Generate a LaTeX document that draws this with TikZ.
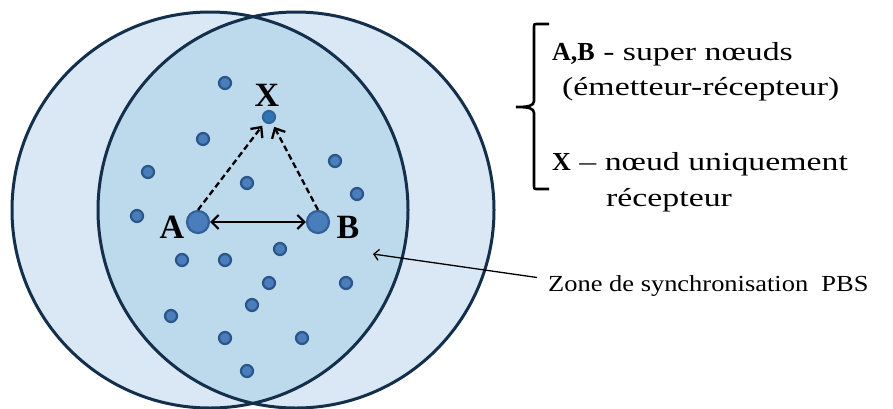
\documentclass[tikz,border=0pt]{standalone}
\usepackage{fontspec}
\setmainfont{Liberation Serif}
\newfontfamily\legendfont[FakeStretch=1.3]{Liberation Serif}
\newfontfamily\legendbold{Liberation Serif}
\newfontfamily\zonefont[FakeStretch=1.15]{Liberation Serif}
\newcommand{\keyname}[1]{{\legendbold\bfseries #1}}
\usetikzlibrary{arrows.meta}
\definecolor{rim}{HTML}{132F4C}
\definecolor{pale}{HTML}{DAE8F5}
\definecolor{lens}{HTML}{BDD9EC}
\definecolor{dotfill}{HTML}{4A7DBB}
\definecolor{dotrim}{HTML}{2B5689}
\definecolor{xfill}{HTML}{2E75B6}
\tikzset{>={Straight Barb[length=7pt,width=14pt]},zone/.style={line width=3pt,draw=rim},dot/.style={circle,fill=dotfill,draw=dotrim,line width=2.2pt,inner sep=0pt,minimum size=12pt},supernode/.style={dot,minimum size=22pt,draw=dotrim!70!dotfill},tag/.style={font=\bfseries\fontsize{34}{34}\selectfont},legend/.style={font=\legendfont\fontsize{26}{36}\selectfont,anchor=base west,inner sep=0pt},zonetext/.style={legend,font=\zonefont\fontsize{23}{23}\selectfont},link/.style={<->,line width=2.2pt},listen/.style={-{Straight Barb[length=8pt,width=15pt]},line width=2.3pt,dash pattern=on 6pt off 3.5pt,shorten >=4pt},pointer/.style={->,line width=1.3pt,>={Straight Barb[length=5pt,width=11pt]}}}

\begin{document}
\begin{tikzpicture}[x=1pt,y=-1pt]
\useasboundingbox (0,0) rectangle (893,408);
% the two ranges and their common zone
\fill[pale] (210,210) circle (198pt) (296,210) circle (198pt);
\begin{scope}
\clip (210,210) circle (198pt);
\fill[lens] (296,210) circle (198pt);
\end{scope}
\draw[zone] (210,210) circle (198pt) (296,210) circle (198pt);
% ordinary nodes
\foreach \x/\y [count=\i] in {225/83,203/139,148/172,247/183,335/161,357/194,137/216,182/260,225/260,280/249,269/283,346/283,252/305,171/316,225/338,302/338,247/371}
  \node[dot] (n\i) at (\x,\y) {};
\node[supernode] (A) at (198,222) {};
\node[supernode] (B) at (318,222) {};
\node[dot,fill=xfill,draw=dotrim!70!dotfill] (X) at (269,117) {};
\node[tag] (labA) at (172,227) {A};
\node[tag] (labB) at (348,227) {B};
\node[tag] (labX) at (267,95) {X};
\draw[link] (A) -- (B);
\draw[listen] (A.north) -- (X);
\draw[listen] (B.north) -- (X);
% legend
\draw[line width=2.6pt] (549,24) -- (538,24) .. controls (534,24) .. (534,28) -- (534,101) .. controls (534,106) and (528,107) .. (516,107) .. controls (528,107) and (534,108) .. (534,113) -- (534,185) .. controls (534,189) .. (538,189) -- (549,189);
\node[legend] (ab) at (552,60) {\keyname{A,B} - super nœuds};
\node[legend] (ab2) at (562,95) {(émetteur-récepteur)};
\node[legend] (xl) at (552,170) {\keyname{X} – nœud uniquement};
\node[legend] (xl2) at (606,206) {récepteur};
\node[zonetext] (pbs) at (548,291) {Zone de synchronisation\ \ PBS};
\coordinate (tip) at (373,254);
\draw[pointer] ([xshift=-11pt,yshift=8pt]pbs.west) -- (tip);
\end{tikzpicture}
\end{document}
